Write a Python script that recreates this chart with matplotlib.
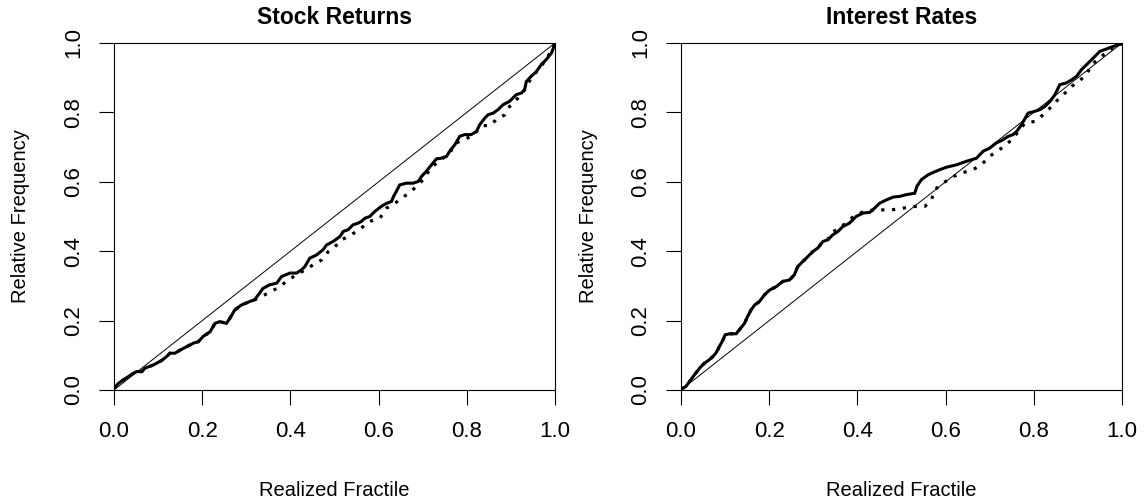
import matplotlib
matplotlib.use("Agg")
import matplotlib.pyplot as plt

plt.rcParams["font.family"] = ["Liberation Sans", "DejaVu Sans"]

# Stock returns: observed relative frequency vs. realized fractile
stock_x = [0.000, 0.010, 0.021, 0.032, 0.044, 0.051, 0.063, 0.070, 0.089, 0.108,
           0.119, 0.127, 0.138, 0.150, 0.165, 0.180, 0.191, 0.202, 0.218, 0.229,
           0.240, 0.255, 0.263, 0.274, 0.289, 0.308, 0.319, 0.327, 0.338, 0.353,
           0.369, 0.380, 0.399, 0.414, 0.425, 0.433, 0.444, 0.459, 0.474, 0.482,
           0.497, 0.512, 0.520, 0.531, 0.542, 0.554, 0.561, 0.569, 0.580, 0.591,
           0.606, 0.618, 0.629, 0.634, 0.640, 0.648, 0.663, 0.678, 0.690, 0.697,
           0.708, 0.720, 0.731, 0.742, 0.754, 0.761, 0.773, 0.784, 0.795, 0.810,
           0.822, 0.829, 0.841, 0.848, 0.860, 0.871, 0.882, 0.897, 0.912, 0.924,
           0.931, 0.935, 0.946, 0.958, 0.969, 0.980, 0.992, 1.000]
stock_y = [0.005, 0.019, 0.029, 0.038, 0.048, 0.053, 0.053, 0.063, 0.072, 0.085,
           0.096, 0.106, 0.106, 0.115, 0.125, 0.135, 0.139, 0.154, 0.168, 0.192,
           0.197, 0.192, 0.207, 0.231, 0.245, 0.255, 0.260, 0.274, 0.293, 0.303,
           0.308, 0.327, 0.337, 0.337, 0.346, 0.356, 0.380, 0.389, 0.404, 0.418,
           0.428, 0.442, 0.457, 0.462, 0.476, 0.481, 0.486, 0.495, 0.500, 0.514,
           0.529, 0.538, 0.543, 0.558, 0.572, 0.591, 0.596, 0.596, 0.601, 0.615,
           0.630, 0.649, 0.666, 0.668, 0.673, 0.688, 0.707, 0.731, 0.736, 0.736,
           0.745, 0.764, 0.784, 0.793, 0.798, 0.808, 0.822, 0.832, 0.851, 0.856,
           0.865, 0.889, 0.904, 0.918, 0.938, 0.952, 0.971, 0.998]

# Stock returns: second (dotted) series
stock_dot_x = [0.000, 0.010, 0.021, 0.032, 0.044, 0.051, 0.063, 0.070, 0.089, 0.108,
               0.119, 0.127, 0.138, 0.150, 0.165, 0.180, 0.191, 0.202, 0.218, 0.229,
               0.240, 0.255, 0.263, 0.274, 0.289, 0.308, 0.319, 0.357, 0.376, 0.395,
               0.414, 0.433, 0.452, 0.471, 0.486, 0.501, 0.516, 0.531, 0.546, 0.565,
               0.580, 0.603, 0.618, 0.637, 0.652, 0.671, 0.686, 0.701, 0.716, 0.731,
               0.746, 0.761, 0.776, 0.792, 0.810, 0.826, 0.837, 0.852, 0.867, 0.886,
               0.897, 0.916, 0.931, 0.946, 0.965, 0.980, 1.000]
stock_dot_y = [0.005, 0.019, 0.029, 0.038, 0.048, 0.053, 0.053, 0.063, 0.072, 0.085,
               0.096, 0.106, 0.106, 0.115, 0.125, 0.135, 0.139, 0.154, 0.168, 0.192,
               0.197, 0.192, 0.207, 0.231, 0.245, 0.255, 0.260, 0.284, 0.298, 0.317,
               0.332, 0.346, 0.361, 0.375, 0.399, 0.413, 0.433, 0.442, 0.454, 0.471,
               0.486, 0.495, 0.524, 0.538, 0.553, 0.569, 0.587, 0.606, 0.635, 0.654,
               0.668, 0.683, 0.712, 0.721, 0.731, 0.750, 0.762, 0.762, 0.779, 0.793,
               0.817, 0.841, 0.865, 0.899, 0.928, 0.952, 0.998]

# Interest rates: observed relative frequency vs. realized fractile
rate_x = [0.000, 0.011, 0.019, 0.030, 0.042, 0.053, 0.064, 0.072, 0.079, 0.087,
          0.095, 0.100, 0.110, 0.125, 0.132, 0.144, 0.151, 0.159, 0.167, 0.178,
          0.189, 0.201, 0.216, 0.231, 0.246, 0.257, 0.265, 0.276, 0.288, 0.299,
          0.310, 0.322, 0.333, 0.344, 0.356, 0.367, 0.382, 0.397, 0.413, 0.428,
          0.439, 0.450, 0.466, 0.481, 0.496, 0.511, 0.530, 0.535, 0.545, 0.560,
          0.572, 0.587, 0.602, 0.625, 0.647, 0.670, 0.685, 0.700, 0.715, 0.727,
          0.742, 0.753, 0.761, 0.772, 0.787, 0.802, 0.814, 0.825, 0.837, 0.848,
          0.859, 0.874, 0.886, 0.897, 0.908, 0.920, 0.935, 0.950, 0.965, 0.980,
          1.000]
rate_y = [0.002, 0.010, 0.024, 0.043, 0.063, 0.077, 0.087, 0.096, 0.106, 0.125,
          0.144, 0.159, 0.162, 0.162, 0.173, 0.192, 0.212, 0.231, 0.245, 0.255,
          0.274, 0.288, 0.298, 0.313, 0.317, 0.332, 0.356, 0.370, 0.385, 0.399,
          0.409, 0.428, 0.433, 0.447, 0.457, 0.471, 0.481, 0.500, 0.510, 0.512,
          0.524, 0.538, 0.548, 0.556, 0.558, 0.563, 0.567, 0.587, 0.606, 0.620,
          0.627, 0.635, 0.642, 0.649, 0.659, 0.668, 0.688, 0.697, 0.712, 0.719,
          0.731, 0.736, 0.745, 0.764, 0.798, 0.803, 0.808, 0.817, 0.832, 0.851,
          0.880, 0.885, 0.894, 0.904, 0.923, 0.938, 0.957, 0.976, 0.983, 0.990,
          0.998]

# Interest rates: second (dotted) series
rate_dot_x = [0.000, 0.011, 0.019, 0.030, 0.042, 0.053, 0.064, 0.072, 0.079, 0.087,
              0.095, 0.100, 0.110, 0.125, 0.132, 0.144, 0.151, 0.159, 0.167, 0.178,
              0.189, 0.201, 0.216, 0.231, 0.246, 0.257, 0.265, 0.276, 0.288, 0.299,
              0.310, 0.322, 0.333, 0.341, 0.360, 0.379, 0.397, 0.420, 0.450, 0.477,
              0.503, 0.530, 0.553, 0.568, 0.575, 0.594, 0.617, 0.636, 0.662, 0.681,
              0.700, 0.715, 0.734, 0.753, 0.780, 0.802, 0.821, 0.837, 0.855, 0.871,
              0.886, 0.916, 0.935, 0.958, 0.980, 1.000]
rate_dot_y = [0.002, 0.010, 0.024, 0.043, 0.063, 0.077, 0.087, 0.096, 0.106, 0.125,
              0.144, 0.159, 0.162, 0.162, 0.173, 0.192, 0.212, 0.231, 0.245, 0.255,
              0.274, 0.288, 0.298, 0.313, 0.317, 0.332, 0.356, 0.370, 0.385, 0.399,
              0.409, 0.428, 0.433, 0.454, 0.466, 0.488, 0.505, 0.517, 0.519, 0.519,
              0.524, 0.529, 0.529, 0.548, 0.577, 0.596, 0.615, 0.625, 0.635, 0.649,
              0.673, 0.688, 0.702, 0.726, 0.769, 0.774, 0.793, 0.813, 0.837, 0.856,
              0.875, 0.904, 0.942, 0.966, 0.986, 0.998]

panel_titles = ["Stock Returns", "Interest Rates"]
tick_values = [0.0, 0.2, 0.4, 0.6, 0.8, 1.0]
tick_labels = ["0.0", "0.2", "0.4", "0.6", "0.8", "1.0"]
x_label = "Realized Fractile"
y_label = "Relative Frequency"

fig = plt.figure(figsize=(11.46, 5.04), dpi=100)
W, H = 1146, 504
ax_h = (390 - 43) / H
axes = [fig.add_axes([114 / W, 1 - 390 / H, (555 - 114) / W, ax_h]),
        fig.add_axes([681 / W, 1 - 390 / H, (1122 - 681) / W, ax_h])]

series = [(stock_x, stock_y, stock_dot_x, stock_dot_y),
          (rate_x, rate_y, rate_dot_x, rate_dot_y)]

for ax, title, (sx, sy, dx, dy) in zip(axes, panel_titles, series):
    ax.plot([0, 1], [0, 1], color="black", lw=0.7)
    ax.plot(dx, dy, color="black", lw=2.3, linestyle=(0, (1, 2.4)),
            dash_capstyle="butt")
    ax.plot(sx, sy, color="black", lw=2.2, solid_joinstyle="miter")
    ax.set_xlim(0, 1)
    ax.set_ylim(0, 1)
    ax.set_xticks(tick_values)
    ax.set_xticklabels(tick_labels)
    ax.set_yticks(tick_values)
    ax.set_yticklabels(tick_labels, rotation=90, va="center")
    ax.tick_params(direction="out", length=10.5, width=0.8, labelsize=16,
                   colors="black")
    ax.tick_params(axis="x", pad=12)
    ax.tick_params(axis="y", pad=11)
    for sp in ax.spines.values():
        sp.set_linewidth(0.8)
    ax.set_title(title, fontsize=16.5, fontweight="bold", y=1 + 25 / 347,
                 va="center", pad=0)
    ax.set_xlabel(x_label, fontsize=14.5)
    ax.xaxis.set_label_coords(0.5, -100 / 347)
    ax.xaxis.label.set_va("center")
    ax.set_ylabel(y_label, fontsize=14.5)
    ax.yaxis.set_label_coords(-93 / 441, 0.5)
    ax.yaxis.label.set_va("center")

fig.savefig("out.png", dpi=100)
